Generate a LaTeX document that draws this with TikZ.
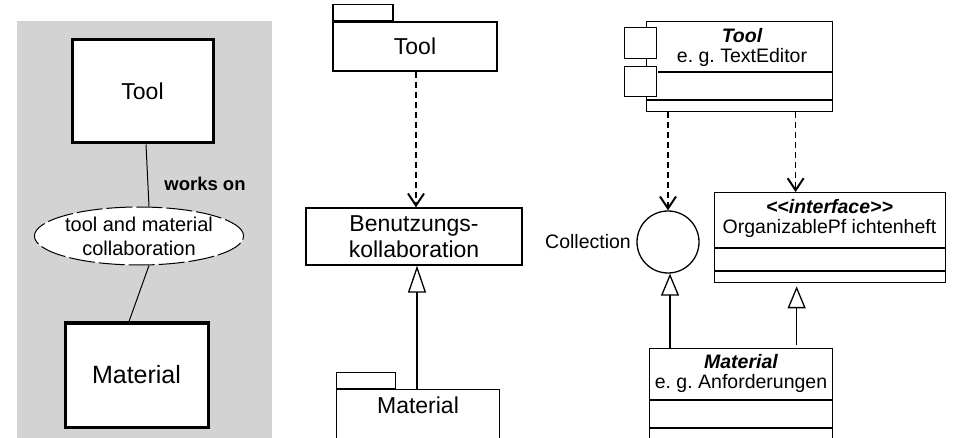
\documentclass[tikz,border=0pt]{standalone}
\usepackage{fontspec}
\setmainfont{Liberation Sans}
\frenchspacing
\usetikzlibrary{arrows.meta,shapes.geometric,calc}
\definecolor{panelgray}{RGB}{211,211,211}
\tikzset{
  big/.style={font=\fontsize{23}{26}\selectfont},
  small/.style={font=\fontsize{19.5}{19.5}\selectfont},
  thickbox/.style={draw, line width=3pt, fill=white, inner sep=0pt, big},
  thinbox/.style={draw, line width=1.3pt, fill=white, inner sep=0pt},
  dep/.style={line width=1.3pt, dash pattern=on 6pt off 4pt,
    -{Straight Barb[length=12pt,width=16pt,line width=2pt]}},
  gen/.style={line width=1.4pt, -{Triangle[length=#1,width=18pt,fill=white,line width=1.3pt]}},
  gen/.default=24pt,
  plain/.style={line width=1pt},
  classtext/.style={inner sep=0pt, align=center, font=\fontsize{19.5}{20}\selectfont},
}
\begin{document}
\begin{tikzpicture}[x=1pt,y=-1pt]
\clip (0,0) rectangle (953,438);
\fill[white] (0,0) rectangle (953,438);
% left panel
\fill[panelgray] (17,21) rectangle (272,440);
\node[thickbox, minimum width=141, minimum height=103] (lt) at (142.5,91.5) {Tool};
\node[thickbox, minimum width=143, minimum height=104, font=\fontsize{25}{28}\selectfont] (lm) at (136.5,375) {Material};
\node[ellipse, draw, fill=white, line width=1pt, dash pattern=on 26pt off 4pt,
      minimum width=178, minimum height=58, inner sep=0pt, align=center,
      font=\fontsize{20}{24}\selectfont]
      (ell) at (139,236) {tool and material\\collaboration};
\draw[plain] ([xshift=3.5pt]lt.south) -- ([xshift=10pt]ell.north);
\draw[plain] ([xshift=10pt]ell.south) -- ([xshift=-7.5pt]lm.north);
\node[font=\bfseries\fontsize{18.5}{20}\selectfont] (works) at (205,184) {works on};
% middle panel
\node[thinbox, minimum width=164, minimum height=49, big] (mt) at (415,46.5) {Tool};
\node[thinbox, minimum width=60, minimum height=16, anchor=south west] (mttab) at (mt.north west) {};
\node[thinbox, minimum width=216, minimum height=57, big, align=center] (bk) at (414,236.5)
  {Benutzungs-\\kollaboration};
\node[thinbox, minimum width=163, minimum height=60, anchor=north west] (mm) at (336,389) {};
\node[big] (mmtext) at (418,405) {Material};
\node[thinbox, minimum width=59, minimum height=16, anchor=south west] (mmtab) at (mm.north west) {};
\draw[dep] (mt.south -| 416,0) -- (bk.north -| 416,0);
\draw[gen=27pt] (mm.north -| 417,0) -- (bk.south -| 417,0);
% right panel: Tool class
\node[thinbox, minimum width=186, minimum height=90, anchor=north west] (tc) at (646,21) {};
\node[classtext] (tctext) at (742,47) {\bfseries\itshape Tool\\e. g. TextEditor};
\draw[line width=1.3pt] (658,72) -- (tc.east |- 0,72);
\draw[line width=1.3pt] (tc.west |- 0,100) -- (tc.east |- 0,100);
\node[thinbox, minimum width=32, minimum height=31, anchor=north west] (sq1) at (624,27) {};
\node[thinbox, minimum width=32, minimum height=30, anchor=north west] (sq2) at (624,66) {};
% Collection
\node[circle, draw, line width=1.3pt, fill=white, minimum size=62, inner sep=0pt] (coll) at (668,242) {};
\node[small] (colltext) at (588,242) {Collection};
% interface
\node[thinbox, minimum width=231, minimum height=90, anchor=north west] (iface) at (714,192) {};
\node[classtext] (iftext) at (829.5,218) {\bfseries\itshape {<}{<}interface{>}{>}\\OrganizablePf ichtenheft};
\draw[line width=1.3pt] (iface.west |- 0,248) -- (iface.east |- 0,248);
\draw[line width=1.3pt] (iface.west |- 0,271) -- (iface.east |- 0,271);
% Material class
\node[thinbox, minimum width=183, minimum height=100, anchor=north west] (mc) at (649,348) {};
\node[classtext] (mctext) at (741,373.5) {\bfseries\itshape Material\\e. g. Anforderungen};
\draw[line width=1.3pt] (mc.west |- 0,400) -- (mc.east |- 0,400);
\draw[line width=1.3pt] (mc.west |- 0,428) -- (mc.east |- 0,428);
% connectors
\draw[dep] (tc.south -| coll.north) -- (coll.north);
\coordinate (ifin) at ([xshift=-34.5pt]iface.north);
\draw[dep] (tc.south -| ifin) -- (ifin);
\draw[gen=22pt] (mc.north -| 670,0) -- (coll.south -| 670,0);
\coordinate (ifout) at ([xshift=-33.5pt]iface.south);
\draw[gen=22pt, shorten >=3pt, shorten <=3pt] (mc.north -| ifout) -- (ifout);
\end{tikzpicture}
\end{document}
